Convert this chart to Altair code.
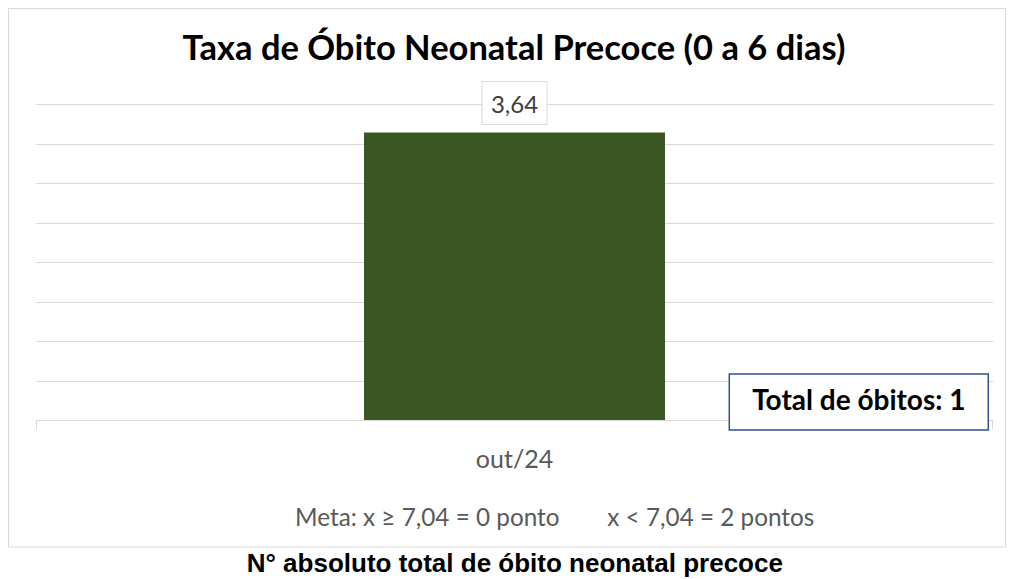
import altair as alt
import pandas as pd

# ---- data ----
categorias = ["out/24"]
taxas = [3.64]
total_obitos = [1]
meta = [7.04]
titulo = "Taxa de Óbito Neonatal Precoce (0 a 6 dias)"
rodape = "N° absoluto total de óbito neonatal precoce"
y_max = 4
y_grid = [0, 0.5, 1, 1.5, 2, 2.5, 3, 3.5, 4]

df = pd.DataFrame({"mes": categorias, "taxa": taxas, "total": total_obitos, "meta": meta})

W, H = 957, 316
GRID = "#D9D9D9"

base = alt.Chart(df).transform_calculate(
    rotulo="replace(format(datum.taxa, '.2f'), '.', ',')",
    meta_txt="replace(format(datum.meta, '.2f'), '.', ',')",
)

x_scale = alt.Scale(paddingInner=0.5215, paddingOuter=0.5215)
y_scale = alt.Scale(domain=[0, y_max], nice=False)

x_axis = alt.Axis(
    title=None, labelAngle=0, labelFont="Lato", labelFontSize=25,
    labelColor="#595959", labelBaseline="alphabetic", labelPadding=47,
    ticks=False, domainColor=GRID, domainWidth=1,
)
y_axis = alt.Axis(
    title=None, labels=False, ticks=False, domain=False, grid=True,
    gridColor=GRID, gridWidth=1, values=y_grid,
)
x_enc = alt.X("mes:N", scale=x_scale, axis=x_axis)
y_enc = alt.Y("taxa:Q", scale=y_scale, axis=y_axis)

border = base.mark_rect(fill="white", fillOpacity=0, stroke=GRID, strokeWidth=1).encode(
    x=alt.value(-27.5), x2=alt.value(969.5), y=alt.value(-95.5), y2=alt.value(443)
)

bars = base.mark_bar(color="#3A5623").encode(x=x_enc, y=y_enc)

tick_l = base.mark_rule(color=GRID, strokeWidth=1).encode(
    x=alt.value(0.5), y=alt.value(316), y2=alt.value(325)
)
tick_r = base.mark_rule(color=GRID, strokeWidth=1).encode(
    x=alt.value(956.5), y=alt.value(316), y2=alt.value(325)
)

label_box = base.mark_bar(
    width=65, fill="white", stroke=GRID, strokeWidth=1, yOffset=-51, y2Offset=-8
).encode(x=x_enc, y=y_enc, y2="taxa:Q")

label_txt = base.mark_text(
    font="Lato", fontSize=24, color="#404040", baseline="alphabetic", align="center", dy=-19
).encode(x=x_enc, y=y_enc, text="rotulo:N")

total_box = base.mark_rect(fill="white", stroke="#2F528F", strokeWidth=1.5).encode(
    x=alt.value(693.3), x2=alt.value(952.3), y=alt.value(270), y2=alt.value(326)
)
total_txt = base.transform_calculate(
    t="'Total de óbitos: ' + datum.total"
).mark_text(
    font="Lato", fontWeight="bold", fontSize=28, color="black", align="center", baseline="alphabetic"
).encode(x=alt.value(822.8), y=alt.value(306), text="t:N")

title_txt = base.mark_text(
    font="Lato", fontWeight="bold", fontSize=34.5, color="black", align="center", baseline="alphabetic"
).encode(x=alt.value(478), y=alt.value(-44.5), text=alt.value(titulo))

meta1 = base.transform_calculate(
    t="'Meta: x ≥ ' + datum.meta_txt + ' = 0 ponto'"
).mark_text(
    font="Lato", fontSize=24.3, color="#595959", align="left", baseline="alphabetic"
).encode(x=alt.value(259), y=alt.value(422), text="t:N")

meta2 = base.transform_calculate(
    t="'x < ' + datum.meta_txt + ' = 2 pontos'"
).mark_text(
    font="Lato", fontSize=24.3, color="#595959", align="left", baseline="alphabetic"
).encode(x=alt.value(571.3), y=alt.value(422), text="t:N")

foot = base.mark_text(
    font="Liberation Sans", fontWeight="bold", fontSize=26, color="black", align="center", baseline="alphabetic"
).encode(x=alt.value(478.8), y=alt.value(468), text=alt.value(rodape))

chart = alt.layer(
    border, bars, tick_l, tick_r, label_box, label_txt, total_box, total_txt,
    title_txt, meta1, meta2, foot,
).properties(
    width=W, height=H,
    autosize=alt.AutoSizeParams(type="none"),
    padding={"left": 28, "top": 96, "right": 13, "bottom": 158},
    background="white",
).configure_view(stroke=None)

chart.save("out.html", embed_options={"renderer": "svg", "actions": False})
